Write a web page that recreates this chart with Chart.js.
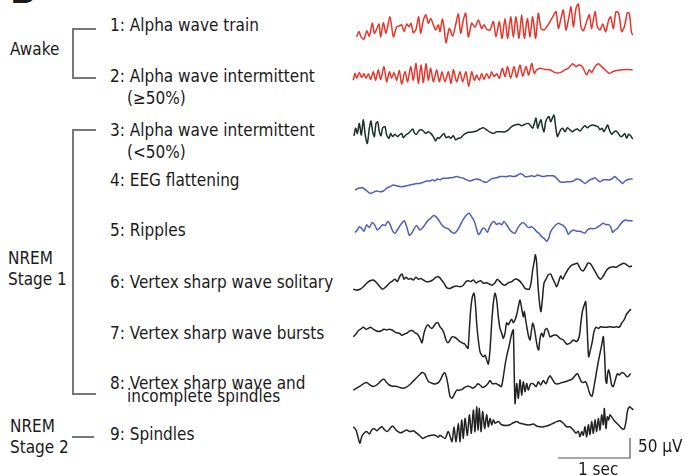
<!DOCTYPE html>
<html>
<head>
<meta charset="utf-8">
<script src="https://cdn.jsdelivr.net/npm/chart.js@4"></script>
<style>
  html, body { margin: 0; padding: 0; background: #fff; }
  #wrap { position: relative; width: 685px; height: 476px; overflow: hidden;
          font-family: "DejaVu Sans Condensed", "DejaVu Sans", sans-serif; color: #1a1a1a; }
  #plot { position: absolute; left: 340px; top: 0; width: 345px; height: 476px; }
  .lbl { position: absolute; white-space: nowrap; font-size: 17px; line-height: 20px; }
  .br { position: absolute; border: 2px solid #777; border-right: none; }
  .hl { position: absolute; height: 0; border-top: 2px solid #777; }
</style>
</head>
<body>
<div id="wrap">
  <div class="lbl" style="left:10px;top:-26px;font-size:34px;line-height:34px;font-weight:bold;font-family:'DejaVu Sans',sans-serif;">B</div>
  <div id="plot"><canvas id="eeg"></canvas></div>
</div>
<script>
const FS = 216; // samples per second

const traceNames = [
    ['1: Alpha wave train'],
    ['2: Alpha wave intermittent', '(≥50%)'],
    ['3: Alpha wave intermittent', '(<50%)'],
    ['4: EEG flattening'],
    ['5: Ripples'],
    ['6: Vertex sharp wave solitary'],
    ['7: Vertex sharp wave bursts'],
    ['8: Vertex sharp wave and', 'incomplete spindles'],
    ['9: Spindles']
];
const stageNames = [['Awake'], ['NREM', 'Stage 1'], ['NREM', 'Stage 2']];

const alphaTrain = [[14,-22],[21,-9],[27,-22],[36,-28],[44,-7],[52,-20],[61,12],[67,-13],[74,-3],[81,10],[86,-22],[94,13],[102,-13],[114,28],[124,-22],[134,3],[142,5],[149,8],[156,-9],[164,10],[171,3],[177,12],[184,-12],[192,-3],[200,28],[206,-13],[214,20],[222,33],[229,12],[236,24],[244,8],[251,-5],[259,8],[264,-9],[271,22],[276,3],[282,-37],[292,-1],[302,-20],[311,8],[319,35],[326,-13],[334,20],[341,37],[349,-22],[359,12],[369,2],[379,20],[389,-1],[396,8],[404,-3],[414,-5],[424,16],[432,-22],[442,16],[450,-26],[459,24],[467,-26],[476,28],[484,-23],[492,28],[501,-26],[509,33],[517,-26],[526,24],[534,-22],[542,28],[551,-26],[559,37],[567,-1],[576,-5],[584,3],[594,16],[602,28],[612,41],[619,-1],[627,24],[634,45],[642,-5],[650,24],[657,53],[664,3],[672,49],[679,60],[687,3],[694,-7],[704,16],[712,33],[719,-1],[729,41],[736,3],[744,-5],[752,10],[761,-9],[770,20],[776,28],[784,-1],[792,41],[800,37],[809,-9],[817,3],[826,38],[832,37],[838,-9],[842,-18]];

const alphaHigh = [[4,-13],[9,4],[14,-8],[22,6],[29,-6],[36,3],[42,-8],[49,3],[56,-11],[64,8],[71,-13],[79,13],[86,-11],[96,21],[104,-17],[112,8],[119,-8],[126,6],[134,-13],[142,11],[149,-23],[159,8],[167,-17],[176,21],[184,-13],[192,29],[199,-21],[207,25],[214,-19],[222,28],[229,-13],[236,17],[244,-17],[254,13],[262,-17],[270,8],[279,-17],[289,8],[297,-21],[304,13],[314,-17],[324,8],[332,-17],[342,8],[350,-29],[359,8],[367,-13],[374,0],[382,-13],[389,4],[396,-11],[404,3],[412,-8],[419,8],[426,-4],[434,3],[442,-8],[451,17],[459,-4],[467,21],[476,-8],[486,21],[494,-6],[504,25],[512,-3],[522,21],[530,0],[539,29],[547,4],[554,13],[564,17],[579,14],[594,13],[609,6],[624,6],[639,13],[649,17],[662,28],[672,21],[680,25],[689,23],[696,13],[704,0],[712,13],[719,6],[729,21],[739,28],[749,21],[759,13],[772,4],[782,8],[794,11],[809,13],[824,14],[842,13]];

const alphaLow = [[6,-7],[11,12],[16,-1],[22,24],[28,-5],[34,33],[40,-7],[46,-26],[52,12],[57,30],[62,3],[67,-9],[72,24],[77,28],[82,3],[87,-7],[92,13],[99,16],[104,-5],[111,-13],[116,-1],[122,-9],[129,-3],[136,-9],[142,-5],[149,-1],[154,-12],[161,-5],[169,-1],[176,5],[182,10],[188,-1],[194,-3],[200,5],[207,8],[214,5],[221,-1],[229,3],[236,-1],[244,-9],[251,-20],[256,-12],[262,-13],[269,-7],[276,-1],[282,-12],[289,-9],[296,-13],[304,-7],[311,-17],[319,-13],[326,-12],[334,-5],[342,-1],[349,2],[356,2],[364,3],[374,5],[384,10],[394,13],[404,8],[414,2],[424,-1],[434,3],[444,3],[459,3],[469,8],[479,16],[489,20],[499,22],[509,18],[519,22],[529,24],[536,18],[542,12],[547,24],[552,37],[557,12],[562,24],[567,33],[571,16],[576,3],[581,28],[586,37],[591,41],[596,28],[601,37],[606,45],[611,16],[616,-9],[621,-1],[626,8],[632,12],[639,3],[646,13],[654,8],[661,3],[669,8],[676,10],[684,5],[692,13],[699,18],[706,13],[714,18],[722,20],[730,18],[738,16],[744,8],[750,12],[756,3],[762,13],[767,20],[772,8],[779,-3],[786,3],[792,5],[799,-1],[806,-9],[812,-7],[818,-1],[824,-13],[830,-3],[836,-7],[842,-15]];

const flattening = [[9,-18],[19,-13],[32,-12],[42,-18],[54,-26],[64,-23],[74,-20],[84,-22],[94,-20],[104,-13],[114,-9],[124,-5],[134,-7],[144,-9],[154,-9],[164,-7],[174,-5],[184,-3],[194,-1],[204,-1],[214,2],[224,5],[234,5],[242,8],[249,5],[256,10],[264,8],[274,12],[284,12],[294,13],[304,14],[314,16],[324,14],[334,12],[344,8],[354,5],[364,8],[374,10],[384,8],[394,3],[404,2],[414,8],[424,12],[434,13],[444,16],[454,16],[464,16],[474,18],[484,16],[494,18],[504,23],[511,22],[519,16],[529,16],[539,18],[549,16],[556,20],[564,18],[574,16],[584,18],[594,18],[604,18],[614,12],[624,3],[634,2],[644,3],[654,3],[664,5],[674,10],[684,8],[692,3],[699,-1],[706,3],[714,8],[722,10],[729,13],[736,8],[744,3],[754,8],[764,8],[774,8],[782,12],[789,16],[796,10],[804,5],[812,-1],[819,5],[826,8],[834,10],[842,10]];

const ripples = [[9,-6],[16,0],[22,8],[29,4],[36,-3],[44,13],[52,6],[61,19],[69,11],[76,0],[84,6],[92,13],[99,11],[107,21],[114,14],[122,-3],[129,-8],[136,0],[144,11],[151,19],[157,23],[164,8],[172,-13],[179,-8],[186,3],[194,11],[204,0],[214,8],[222,17],[229,25],[236,29],[244,36],[252,33],[260,25],[269,13],[279,6],[289,3],[297,-4],[306,-8],[314,-3],[322,8],[329,19],[336,29],[344,38],[352,42],[359,33],[366,23],[372,8],[379,-11],[384,-8],[392,4],[399,3],[406,-6],[412,6],[419,17],[426,21],[434,14],[442,17],[449,13],[456,21],[464,13],[474,0],[482,-6],[489,-8],[496,3],[504,13],[512,19],[520,14],[529,6],[539,8],[547,3],[554,-4],[561,-8],[569,-17],[576,-21],[584,-28],[590,-21],[596,-4],[604,6],[612,13],[619,17],[627,14],[634,11],[642,3],[649,-11],[656,-4],[664,0],[674,-3],[684,-3],[692,-6],[699,-8],[706,0],[714,4],[722,3],[730,4],[738,8],[746,13],[754,17],[762,13],[769,14],[776,8],[782,-6],[789,0],[796,4],[804,13],[812,21],[820,25],[828,23],[842,23]];

const vertexSolitary = [[4,-18],[14,-20],[24,-18],[34,-12],[44,-3],[54,3],[64,5],[74,-2],[84,-12],[92,-18],[102,-12],[112,-3],[122,3],[129,7],[136,1],[144,15],[150,20],[156,7],[162,12],[169,7],[176,9],[184,5],[192,12],[199,7],[206,9],[214,5],[222,1],[232,1],[242,5],[252,12],[260,13],[267,7],[276,-3],[284,-14],[294,-16],[304,-12],[314,-10],[324,-12],[334,-8],[342,1],[349,3],[356,1],[364,5],[372,-2],[379,1],[386,3],[394,-3],[404,-2],[412,-5],[420,-8],[429,-2],[436,7],[444,1],[452,-6],[459,-8],[469,-2],[479,1],[489,7],[499,5],[509,-3],[519,-16],[527,-18],[532,-18],[537,-3],[542,30],[547,53],[550,68],[554,47],[559,-20],[564,-62],[567,-74],[571,-45],[576,-3],[582,7],[589,18],[596,20],[602,9],[609,-3],[614,-12],[620,1],[626,15],[632,7],[639,18],[647,30],[654,38],[661,43],[669,45],[676,47],[682,38],[688,30],[694,28],[701,37],[708,47],[716,45],[724,34],[732,22],[739,12],[746,7],[754,15],[761,26],[769,34],[776,37],[784,38],[792,37],[799,40],[809,45],[816,47],[824,43],[832,38],[840,40]];

const vertexBursts = [[4,-12],[12,-5],[19,3],[26,7],[34,12],[42,7],[49,9],[56,12],[64,7],[72,3],[80,1],[88,3],[96,7],[104,5],[112,7],[120,5],[127,1],[134,-2],[142,-3],[150,-8],[158,-5],[166,-2],[174,3],[182,3],[189,-2],[196,-5],[204,-16],[210,-27],[216,-3],[222,12],[228,18],[234,12],[240,9],[246,15],[252,22],[258,23],[264,13],[270,7],[276,-3],[282,-20],[288,-27],[294,-20],[300,-12],[308,-13],[316,-18],[324,-24],[332,-28],[338,-30],[344,-37],[348,-41],[352,5],[356,55],[361,88],[366,97],[370,72],[374,22],[379,-20],[384,-49],[389,-58],[394,-62],[399,-58],[404,-70],[409,-80],[414,-45],[419,22],[424,72],[429,97],[434,80],[439,38],[444,9],[449,-3],[454,-16],[459,-3],[464,23],[469,18],[474,26],[479,32],[484,23],[489,30],[494,43],[499,63],[504,80],[509,59],[514,38],[517,51],[521,30],[526,5],[530,-12],[534,-20],[538,1],[542,22],[546,13],[551,-12],[556,-37],[560,-45],[564,-16],[569,-3],[574,-12],[579,5],[584,9],[589,1],[594,-12],[604,-8],[614,-8],[624,-16],[634,-20],[644,-30],[654,-28],[664,-20],[674,-24],[682,-10],[687,26],[692,55],[697,68],[701,76],[704,38],[707,-20],[710,-62],[714,-49],[720,-28],[726,1],[732,12],[739,9],[746,13],[754,12],[764,12],[774,13],[784,12],[794,13],[802,12],[809,22],[816,30],[824,45],[832,53],[837,57]];

const vertexSpindles = [[4,-13],[14,-8],[24,-3],[34,3],[44,6],[54,0],[64,-4],[74,0],[82,6],[90,13],[97,14],[104,6],[112,0],[122,-3],[132,-3],[142,-6],[152,-8],[162,-6],[172,0],[182,8],[192,17],[202,25],[210,31],[218,28],[224,17],[230,8],[236,6],[244,3],[252,3],[259,6],[266,14],[272,25],[278,31],[283,21],[288,0],[294,-28],[300,-33],[306,-25],[314,-13],[322,-13],[330,-11],[338,-6],[346,-3],[354,-4],[362,-8],[370,-4],[378,3],[384,0],[392,-6],[400,-3],[408,4],[414,11],[420,4],[426,3],[432,4],[440,0],[448,-4],[454,21],[460,54],[466,79],[472,100],[477,121],[481,133],[484,138],[489,-46],[494,4],[499,-33],[504,13],[509,-25],[514,8],[519,-17],[524,4],[529,-13],[536,3],[544,3],[552,-4],[559,8],[566,0],[574,11],[582,3],[589,17],[594,23],[602,13],[609,4],[619,3],[629,6],[639,8],[649,11],[659,14],[669,23],[676,29],[682,19],[688,8],[694,6],[701,8],[707,-4],[714,-23],[720,-28],[726,-4],[732,25],[738,54],[744,79],[750,104],[754,121],[758,71],[761,13],[764,4],[767,29],[770,38],[774,25],[779,0],[784,-4],[790,13],[796,28],[802,25],[809,31],[816,29],[822,23],[828,21],[836,29]];

const spindles = [[4,3],[12,-5],[19,-26],[24,-38],[29,-22],[36,-13],[44,-9],[52,-15],[59,-5],[66,-1],[74,-7],[82,-1],[90,3],[98,-5],[106,-9],[114,-1],[122,5],[130,-3],[138,-9],[146,-12],[154,-9],[164,-5],[174,-9],[184,-7],[194,-13],[204,-20],[212,-26],[220,-23],[229,-20],[239,-18],[249,-18],[259,-23],[264,-18],[279,-26],[289,-9],[300,-34],[306,3],[312,-34],[319,12],[324,-34],[329,20],[334,-26],[339,24],[346,-18],[352,33],[358,-13],[364,45],[369,-9],[374,53],[378,-5],[382,49],[387,-9],[392,41],[398,-1],[404,33],[409,3],[414,24],[419,8],[424,20],[429,12],[439,16],[449,8],[464,6],[474,8],[484,13],[494,16],[504,12],[514,10],[524,8],[534,8],[544,10],[554,5],[564,3],[574,3],[584,5],[594,8],[604,12],[614,16],[624,18],[634,12],[644,3],[654,3],[664,-5],[672,-13],[679,-8],[684,-22],[689,-9],[694,-18],[699,3],[704,-22],[709,8],[714,-16],[719,16],[724,-13],[729,20],[734,-9],[739,24],[744,-5],[749,33],[754,8],[757,49],[762,-1],[766,28],[770,20],[774,33],[782,24],[789,16],[799,8],[809,-1],[816,-3],[822,16],[826,41],[832,53],[839,49],[844,45]];

const traces = [alphaTrain, alphaHigh, alphaLow, flattening, ripples,
                vertexSolitary, vertexBursts, vertexSpindles, spindles];

// calibration bar
const scaleSec = 1;
const scaleUV = 50;

// ---- layout (page pixels) ----
const PX_PER_SEC = 72;
const UV_PER_PX = 2.5;
const plotLeft = 340, plotW = 345, plotH = 476;
const sample0X = 352;                 // page x of sample 0
const rowY = [28, 75, 133, 183, 230, 282, 332, 385, 428];
const labelY = [25, 76, 130, 180, 230, 282, 333, 383, 434];
const line2Y = [null, 98, 152, null, null, null, null, 396, null];
const stageY = [[49], [258, 279], [426, 447]];
const stageX = [10, 8, 10];
const barCorner = [630, 458];
const traceColors = ['#e8352b', '#e8352b', '#1b3128', '#4d5fbe', '#4d5fbe',
                     '#222222', '#222222', '#222222', '#222222'];

const wrap = document.getElementById('wrap');

function addLabel(text, x, y) {
    const d = document.createElement('div');
    d.className = 'lbl';
    d.textContent = text;
    d.style.left = x + 'px';
    d.style.top = (y - 10) + 'px';
    wrap.appendChild(d);
}

traceNames.forEach((lines, k) => {
    addLabel(lines[0], 110, labelY[k]);
    if (lines[1]) addLabel(lines[1], 127, line2Y[k]);
});
stageNames.forEach((lines, k) => {
    lines.forEach((s, j) => addLabel(s, stageX[k], stageY[k][j]));
});
addLabel('50 µV', 638, 446);
addLabel('1 sec', 578, 469);

// brackets
function addBox(cls, l, t, w, h) {
    const d = document.createElement('div');
    d.className = cls;
    d.style.left = l + 'px';
    d.style.top = t + 'px';
    d.style.width = w + 'px';
    if (h !== undefined) d.style.height = h + 'px';
    wrap.appendChild(d);
}
addBox('br', 72, 28, 22, 47);
addBox('br', 72, 129, 22, 262);
addBox('hl', 72, 436, 22);

// ---- chart ----
const toX = px => (px - sample0X) / PX_PER_SEC;
const toY = py => (plotH - py) * UV_PER_PX;

const datasets = traces.map((tr, k) => ({
    data: tr.map(([i, v]) => ({ x: i / FS, y: toY(rowY[k]) + v })),
    borderColor: traceColors[k],
    borderWidth: 1.5,
    pointRadius: 0,
    tension: 0.25,
    fill: false
}));

const cx = toX(barCorner[0]), cy = toY(barCorner[1]);
datasets.push({
    data: [{ x: cx - scaleSec, y: cy }, { x: cx, y: cy }, { x: cx, y: cy + scaleUV }],
    borderColor: '#555',
    borderWidth: 1.2,
    pointRadius: 0,
    tension: 0,
    fill: false
});

new Chart(document.getElementById('eeg'), {
    type: 'line',
    data: { datasets },
    options: {
        responsive: true,
        maintainAspectRatio: false,
        animation: false,
        layout: { padding: 0 },
        scales: {
            x: { type: 'linear', display: false, min: toX(plotLeft), max: toX(plotLeft + plotW) },
            y: { display: false, min: 0, max: plotH * UV_PER_PX }
        },
        plugins: { legend: { display: false }, tooltip: { enabled: false } }
    }
});
</script>
</body>
</html>
